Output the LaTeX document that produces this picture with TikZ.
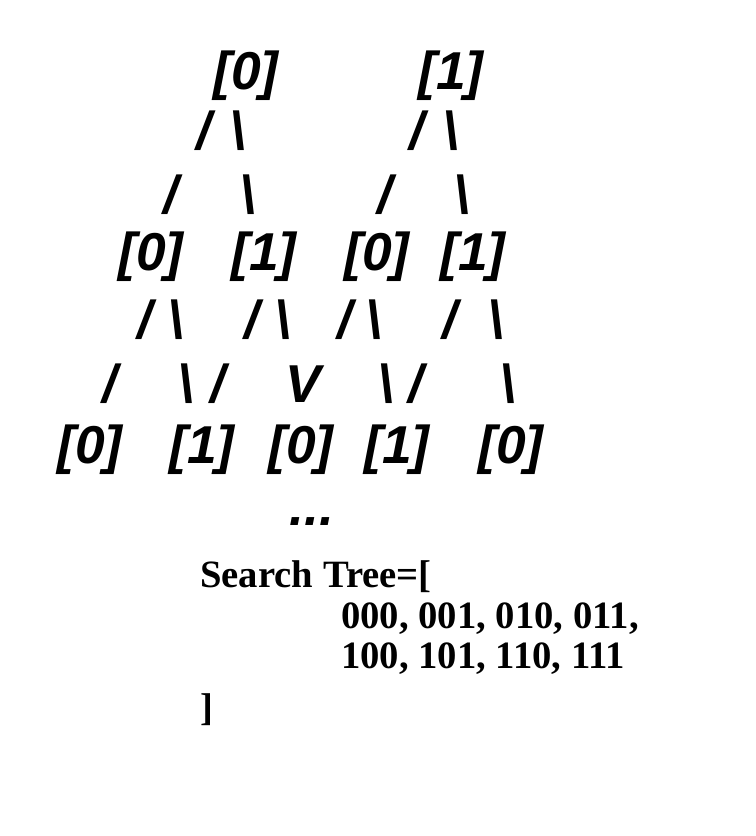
\documentclass[tikz,border=0pt]{standalone}
\usepackage{fontspec}
\newfontfamily\treefont{Liberation Sans}
\newfontfamily\listfont{Liberation Serif}
\tikzset{
  glyph/.style = {inner sep=0pt, anchor=base, font=\treefont\fontsize{40}{44}\selectfont\bfseries\itshape},
  bit/.style = {glyph},
  lft/.style = {glyph},
  rgt/.style = {glyph},
  listline/.style = {inner sep=0pt, anchor=base west, font=\listfont\fontsize{29}{33}\selectfont\bfseries},
}
\newcommand{\bs}{\textbackslash}

\begin{document}
\begin{tikzpicture}[x=0.75pt, y=-0.75pt]
  \useasboundingbox (0,0) rectangle (756,836);
  % top level
  \node [bit] (r0) at (246,89) {[0]};
  \node [bit] (r1) at (451,89) {[1]};
  \node [lft] (r0a) at (204,149) {/};
  \node [rgt] (r0b) at (238,149) {\bs};
  \node [lft] (r1a) at (417,149) {/};
  \node [rgt] (r1b) at (451,149) {\bs};
  \node [lft] (r0c) at (171,213) {/};
  \node [rgt] (r0d) at (248,213) {\bs};
  \node [lft] (r1c) at (385,213) {/};
  \node [rgt] (r1d) at (462,213) {\bs};
  % second level
  \node [bit] (m00) at (151,270) {[0]};
  \node [bit] (m01) at (264,270) {[1]};
  \node [bit] (m10) at (377,270) {[0]};
  \node [bit] (m11) at (473,270) {[1]};
  \node [lft] (m00a) at (145,338) {/};
  \node [rgt] (m00b) at (176,338) {\bs};
  \node [lft] (m01a) at (252,338) {/};
  \node [rgt] (m01b) at (283,338) {\bs};
  \node [lft] (m10a) at (345,338) {/};
  \node [rgt] (m10b) at (374,338) {\bs};
  \node [lft] (m11a) at (450,338) {/};
  \node [rgt] (m11b) at (496,338) {\bs};
  \node [lft] (m00c) at (110,402) {/};
  \node [rgt] (m00d) at (186,402) {\bs};
  \node [lft] (m01c) at (218,402) {/};
  \node [glyph] (m01v) at (303,402) {V};
  \node [rgt] (m10d) at (386,402) {\bs};
  \node [lft] (m11c) at (416,402) {/};
  \node [rgt] (m11d) at (508,402) {\bs};
  % third level
  \node [bit] (b0) at (90,463) {[0]};
  \node [bit] (b1) at (202,463) {[1]};
  \node [bit] (b2) at (301,463) {[0]};
  \node [bit] (b3) at (397,463) {[1]};
  \node [bit] (b4) at (511,463) {[0]};
  \node [glyph] (more) at (312,525) {...};
  % result
  \node [listline] (head) at (200,587) {Search Tree=[};
  \node [listline] (row1) at (341,628) {000, 001, 010, 011,};
  \node [listline] (row2) at (341,668) {100, 101, 110, 111};
  \node [listline] (tail) at (200,720) {]};
\end{tikzpicture}
\end{document}
